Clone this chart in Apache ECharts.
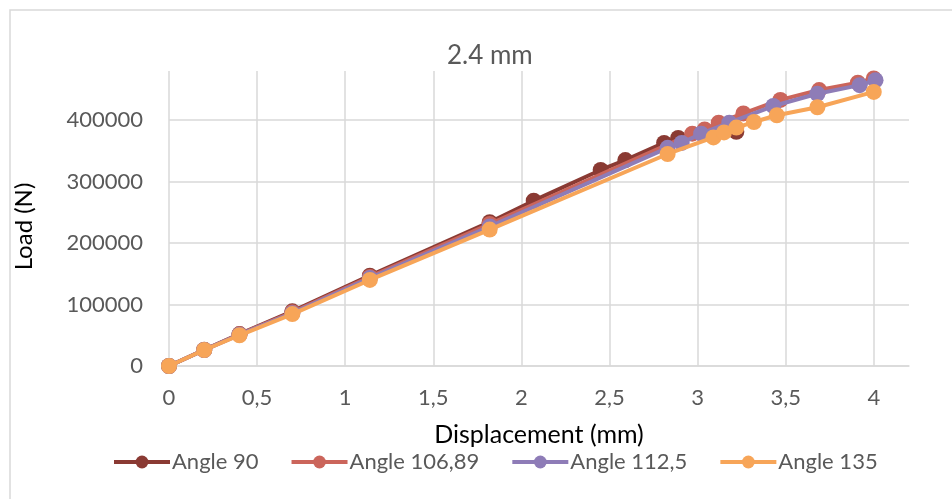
<!DOCTYPE html>
<html>
<head>
<meta charset="utf-8">
<script src="https://cdn.jsdelivr.net/npm/echarts@6/dist/echarts.min.js"></script>
<style>
  html, body { margin: 0; padding: 0; background: #ffffff; }
  #chart { width: 952px; height: 499px; }
</style>
</head>
<body>
<div id="chart"></div>
<script>
// Load–displacement curves for the 2.4 mm specimens, one series per angle
const seriesNames = ['Angle 90', 'Angle 106,89', 'Angle 112,5', 'Angle 135'];

const disp90  = [0, 0.2, 0.4, 0.7, 1.14, 1.82, 2.07, 2.45, 2.59, 2.81, 2.89, 3.22];
const load90  = [0, 26500, 52000, 89000, 147000, 234000, 269000, 319000, 335000, 363000, 371000, 381000];

const disp106 = [0, 0.2, 0.4, 0.7, 1.14, 1.82, 2.97, 3.04, 3.12, 3.26, 3.47, 3.69, 3.91, 4.0];
const load106 = [0, 26000, 51500, 87500, 145000, 231000, 378000, 385000, 396000, 411000, 433000, 449000, 461000, 468000];

const disp112 = [0, 0.2, 0.4, 0.7, 1.14, 1.82, 2.83, 2.91, 3.02, 3.18, 3.43, 3.68, 3.92, 4.01];
const load112 = [0, 26000, 51000, 86000, 143000, 227000, 355000, 363000, 378000, 396000, 423000, 443000, 457000, 465000];

const disp135 = [0, 0.2, 0.4, 0.7, 1.14, 1.82, 2.83, 3.09, 3.15, 3.22, 3.32, 3.45, 3.68, 4.0];
const load135 = [0, 26000, 50000, 84500, 140000, 222000, 345000, 372000, 380000, 388000, 397000, 408000, 421000, 446000];

const colors = ['#8a3a33', '#cb655b', '#8e7cb7', '#f7a558'];

function pairs(xs, ys) { return xs.map((x, i) => [x, ys[i]]); }
const dataSets = [
  pairs(disp90, load90),
  pairs(disp106, load106),
  pairs(disp112, load112),
  pairs(disp135, load135)
];

const FONT = 'Lato, "Open Sans", sans-serif';
const chart = echarts.init(document.getElementById('chart'), null, { renderer: 'canvas' });

chart.setOption({
  backgroundColor: '#ffffff',
  animation: false,
  textStyle: { fontFamily: FONT },
  title: {
    text: '2.4 mm',
    left: 442,
    top: 38,
    textStyle: { fontFamily: FONT, fontSize: 26, fontWeight: 'normal', color: '#595959' }
  },
  graphic: [{
    type: 'rect',
    shape: { x: 10, y: 10, width: 980, height: 520 },
    style: { fill: 'none', stroke: '#d9d9d9', lineWidth: 1.5 },
    silent: true
  }],
  grid: { left: 169, right: 43, top: 71, bottom: 133, containLabel: false },
  legend: {
    left: 107,
    top: 446,
    itemWidth: 56,
    itemHeight: 16,
    itemGap: 31,
    data: seriesNames,
    lineStyle: { width: 4 },
    textStyle: { fontFamily: FONT, fontSize: 22, color: '#595959', padding: [0, 0, 0, -3] }
  },
  xAxis: {
    type: 'value',
    min: 0,
    max: 4.2,
    interval: 0.5,
    name: 'Displacement (mm)',
    nameLocation: 'middle',
    nameGap: 56,
    nameTextStyle: { fontFamily: FONT, fontSize: 25, color: '#000000' },
    axisLine: { show: true, lineStyle: { color: '#d9d9d9', width: 1.5 } },
    axisTick: { show: false },
    axisLabel: {
      margin: 21,
      fontFamily: FONT,
      fontSize: 22,
      color: '#595959',
      showMaxLabel: false,
      formatter: v => String(v).replace('.', ',')
    },
    splitLine: { show: true, showMaxLine: false, lineStyle: { color: '#d9d9d9', width: 1.5 } }
  },
  yAxis: {
    type: 'value',
    min: 0,
    max: 480000,
    interval: 100000,
    name: 'Load (N)',
    nameLocation: 'middle',
    nameGap: 133,
    nameTextStyle: { fontFamily: FONT, fontSize: 24, color: '#000000', padding: [0, 16, 0, 0] },
    axisLine: { show: false },
    axisTick: { show: false },
    axisLabel: {
      margin: 26,
      fontFamily: FONT,
      fontSize: 22,
      color: '#595959',
      showMaxLabel: false,
      formatter: v => String(v)
    },
    splitLine: { show: true, showMaxLine: false, lineStyle: { color: '#d9d9d9', width: 1.5 } }
  },
  series: seriesNames.map((name, i) => ({
    name: name,
    type: 'line',
    data: dataSets[i],
    symbol: 'circle',
    symbolSize: 16,
    showSymbol: true,
    color: colors[i],
    lineStyle: { width: 4, color: colors[i] },
    itemStyle: { color: colors[i] },
    emphasis: { disabled: true },
    z: 2 + i
  }))
});
</script>
</body>
</html>
